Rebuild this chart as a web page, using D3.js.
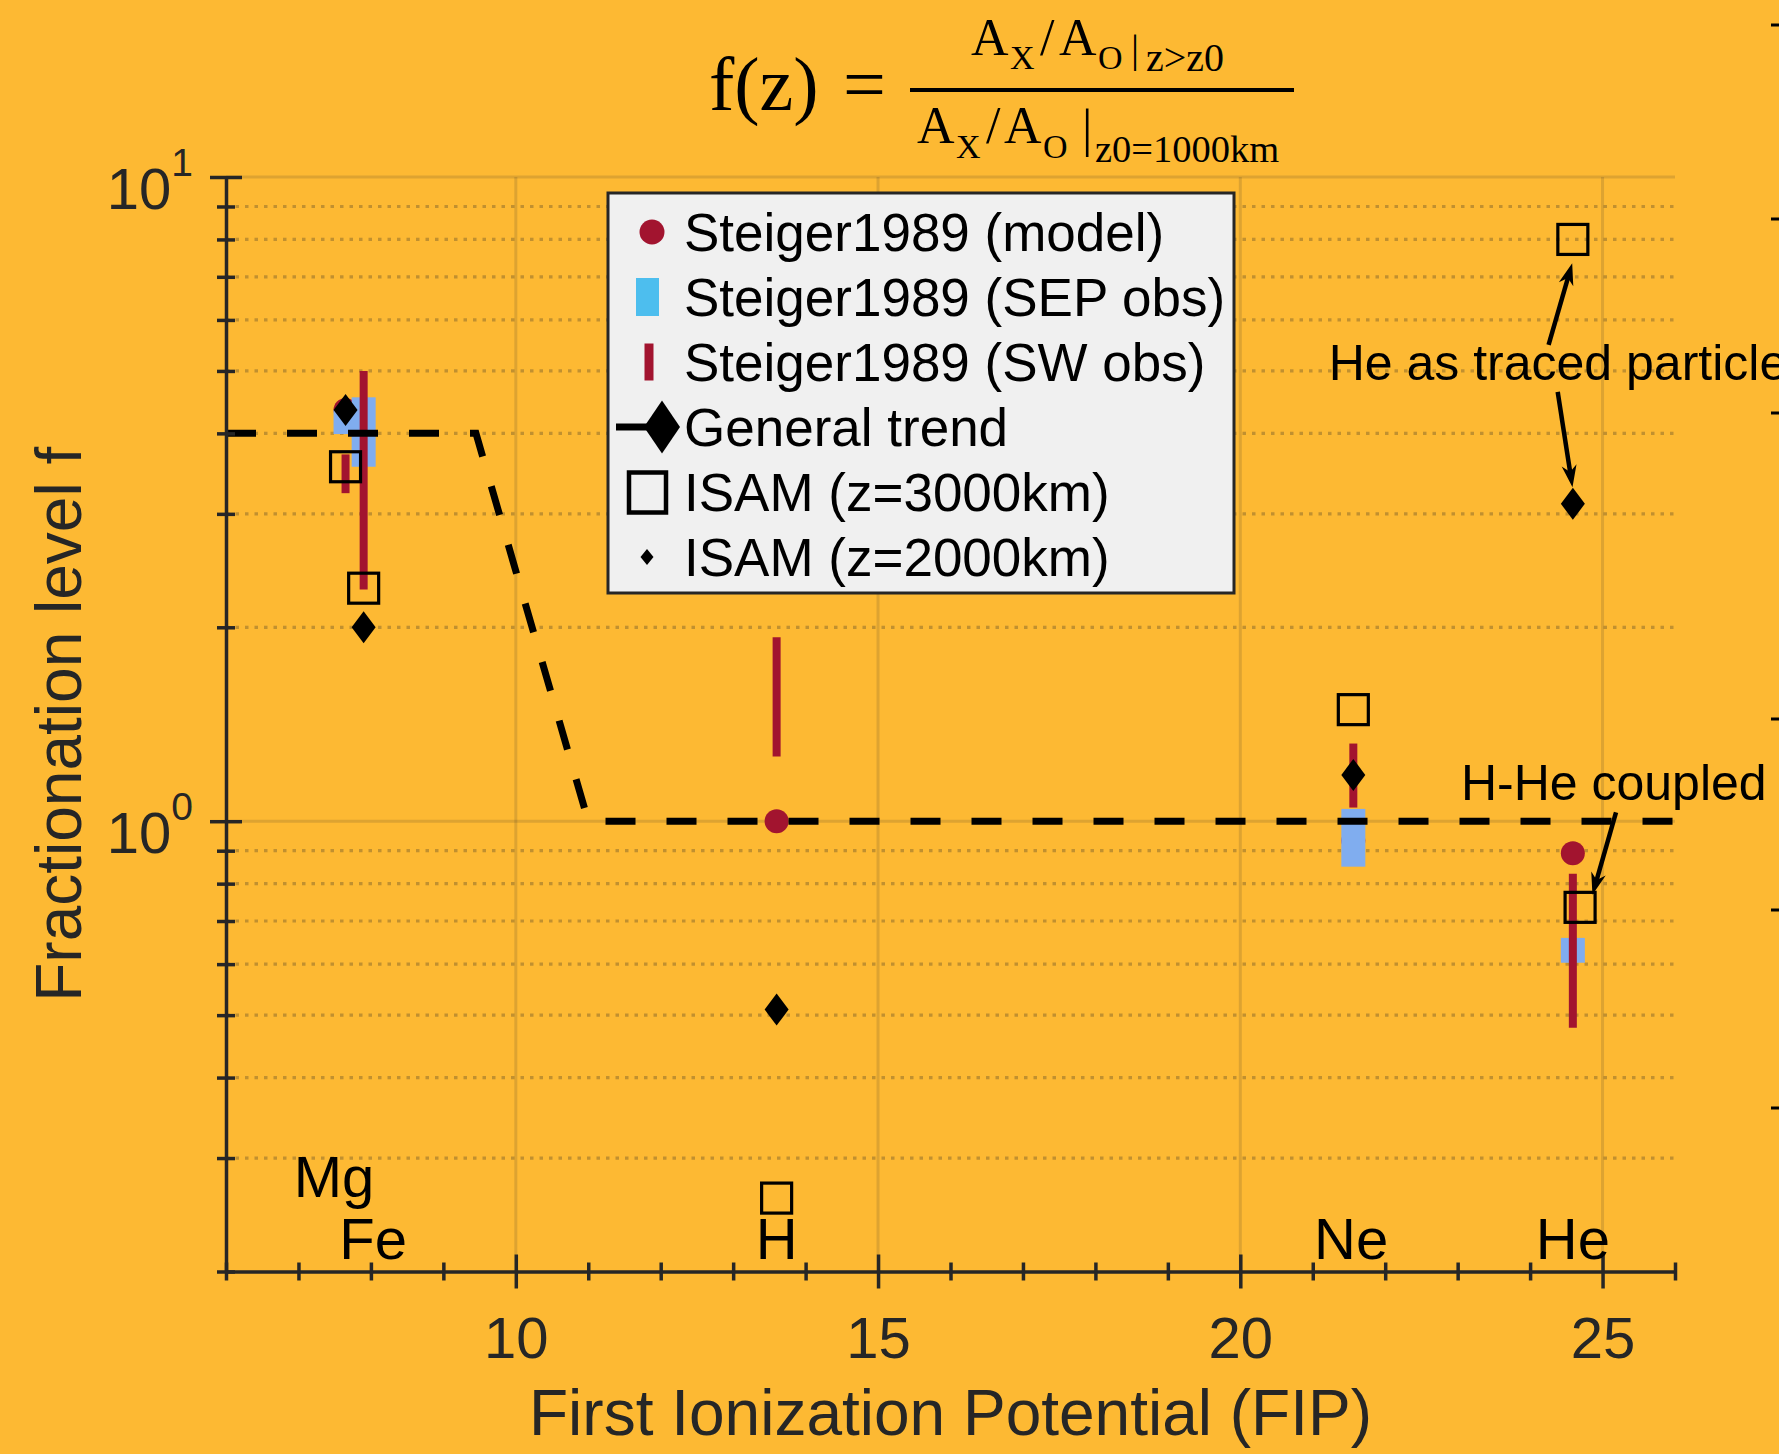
<!DOCTYPE html>
<html><head><meta charset="utf-8">
<script src="https://cdn.jsdelivr.net/npm/d3@7"></script>
<style>html,body{margin:0;padding:0;background:#FDB933;} svg{display:block}</style>
</head><body>
<script>
// ---------------- data ----------------
const elements = ["Mg", "Fe", "H", "Ne", "He"];
const labelX = [7.49, 8.03, 13.60, 21.53, 24.59];
const labelF = [0.2606, 0.209, 0.209, 0.209, 0.209];

const modelX = [7.65, 7.90, 13.60, 21.56, 24.59];
const modelF = [4.35, 4.0, 1.0, 0.933, 0.892];

const sepX = [7.65, 7.90, 21.56, 24.59];
const sepLow = [3.99, 3.55, 0.85, 0.603];
const sepHigh = [4.35, 4.55, 1.045, 0.659];

const swX = [7.65, 7.90, 13.60, 21.56, 24.59];
const swLow = [3.23, 2.29, 1.26, 1.05, 0.478];
const swHigh = [3.71, 5.0, 1.93, 1.32, 0.829];

const trendX = [6, 9.45, 11.0, 26];
const trendF = [4, 4, 1, 1];

const isam3000X = [7.65, 7.90, 13.60, 21.56, 24.59, 24.69];
const isam3000F = [3.55, 2.30, 0.26, 1.49, 8.0, 0.735];

const isam2000X = [7.65, 7.90, 13.60, 21.56, 24.59];
const isam2000F = [4.35, 2.0, 0.51, 1.18, 3.11];

const xTicks = [10, 15, 20, 25];
const xMinorTicks = [6, 7, 8, 9, 11, 12, 13, 14, 16, 17, 18, 19, 21, 22, 23, 24, 26];
const yTicks = [1, 10];
const yTickExp = ["0", "1"];
const yMinorTicks = [0.2, 0.3, 0.4, 0.5, 0.6, 0.7, 0.8, 0.9, 2, 3, 4, 5, 6, 7, 8, 9];

const legendLabels = ["Steiger1989 (model)", "Steiger1989 (SEP obs)", "Steiger1989 (SW obs)",
  "General trend", "ISAM (z=3000km)", "ISAM (z=2000km)"];

const noteTexts = ["He as traced particle", "H-He coupled"];
const noteX = [21.22, 23.045];
const noteF = [4.84, 1.08];
const arrowTailX = [24.255, 24.381, 25.186];
const arrowTailF = [5.49, 4.64, 1.032];
const arrowTipX = [24.581, 24.585, 24.86];
const arrowTipF = [7.35, 3.30, 0.769];

// ---------------- layout ----------------
const W = 1779, H = 1454;
const BG = "#FDB933", AX = "#262626", RED = "#A2142F", SEPBLUE = "#80ADEF", LEGBLUE = "#4DBEEE";
const SANS = "'Liberation Sans', Arial, Helvetica, sans-serif";
const SERIF = "'Liberation Serif', 'Times New Roman', serif";

const x = d3.scaleLinear().domain([6, 26]).range([226, 1675]);
const y = d3.scaleLog().domain([0.2, 10]).range([1271.5, 177]);

const svg = d3.select("body").append("svg").attr("width", W).attr("height", H);
svg.append("rect").attr("width", W).attr("height", H).attr("fill", BG);

// ---- grid ----
const grid = svg.append("g");
grid.selectAll("line.vg").data(xTicks).join("line")
  .attr("x1", d => x(d)).attr("x2", d => x(d)).attr("y1", y(10)).attr("y2", y(0.2))
  .attr("stroke", AX).attr("stroke-opacity", 0.15).attr("stroke-width", 3);
grid.selectAll("line.hg").data(yTicks).join("line")
  .attr("x1", x(6)).attr("x2", x(26)).attr("y1", d => y(d)).attr("y2", d => y(d))
  .attr("stroke", AX).attr("stroke-opacity", 0.15).attr("stroke-width", 3);
grid.selectAll("line.mg").data(yMinorTicks.filter(d => d > 0.2)).join("line")
  .attr("x1", x(6)).attr("x2", x(26)).attr("y1", d => y(d)).attr("y2", d => y(d))
  .attr("stroke", AX).attr("stroke-opacity", 0.28).attr("stroke-width", 3.2)
  .attr("stroke-dasharray", "3.5 6");

// ---- data marks ----
const marks = svg.append("g");
marks.selectAll("circle.model").data(modelX).join("circle")
  .attr("cx", d => x(d)).attr("cy", (d, i) => y(modelF[i])).attr("r", 12).attr("fill", RED);
marks.selectAll("rect.sep").data(sepX).join("rect")
  .attr("x", d => x(d) - 12).attr("width", 24)
  .attr("y", (d, i) => y(sepHigh[i])).attr("height", (d, i) => y(sepLow[i]) - y(sepHigh[i]))
  .attr("fill", SEPBLUE);
marks.selectAll("line.sw").data(swX).join("line")
  .attr("x1", d => x(d)).attr("x2", d => x(d))
  .attr("y1", (d, i) => y(swHigh[i])).attr("y2", (d, i) => y(swLow[i]))
  .attr("stroke", RED).attr("stroke-width", 8);
const trendLine = d3.line().x(d => x(d[0])).y(d => y(d[1]));
marks.append("path").datum(trendX.map((d, i) => [d, trendF[i]]))
  .attr("d", trendLine).attr("fill", "none").attr("stroke", "#000")
  .attr("stroke-width", 7).attr("stroke-dasharray", "30 31");
marks.selectAll("rect.i3").data(isam3000X).join("rect")
  .attr("x", d => x(d) - 15).attr("y", (d, i) => y(isam3000F[i]) - 15)
  .attr("width", 30).attr("height", 30)
  .attr("fill", "none").attr("stroke", "#000").attr("stroke-width", 3.2);
const diamond = (cx, cy, hw, hh) => `M${cx},${cy - hh}L${cx + hw},${cy}L${cx},${cy + hh}L${cx - hw},${cy}Z`;
marks.selectAll("path.i2").data(isam2000X).join("path")
  .attr("d", (d, i) => diamond(x(d), y(isam2000F[i]), 12, 16)).attr("fill", "#000");

// ---- axes ----
const gx = svg.append("g").attr("transform", `translate(0,${y(0.2)})`)
  .call(d3.axisBottom(x).tickValues(xTicks).tickSizeInner(17).tickSizeOuter(0).tickFormat(d3.format("d")));
gx.select(".domain").attr("stroke", AX).attr("stroke-width", 3.5);
gx.selectAll(".tick line").attr("y1", -17).attr("y2", 17).attr("stroke", AX).attr("stroke-width", 3.5);
gx.selectAll(".tick text").attr("y", 86.5).attr("dy", 0).attr("fill", AX)
  .style("font-family", SANS).style("font-size", "58px");
const gxm = svg.append("g").attr("transform", `translate(0,${y(0.2)})`)
  .call(d3.axisBottom(x).tickValues(xMinorTicks).tickSizeInner(9).tickSizeOuter(0).tickFormat(""));
gxm.select(".domain").remove();
gxm.selectAll(".tick line").attr("y1", -9).attr("y2", 9).attr("stroke", AX).attr("stroke-width", 3.5);

const gy = svg.append("g").attr("transform", `translate(${x(6)},0)`)
  .call(d3.axisLeft(y).tickValues(yTicks).tickSizeInner(16).tickSizeOuter(0).tickFormat(""));
gy.select(".domain").attr("stroke", AX).attr("stroke-width", 3.5);
gy.selectAll(".tick line").attr("x1", -16).attr("x2", 16).attr("stroke", AX).attr("stroke-width", 3.5);
gy.selectAll(".tick text").remove();
gy.selectAll(".tick").each(function (d, i) {
  const t = d3.select(this).append("text").attr("x", -33).attr("y", 31)
    .attr("text-anchor", "end").attr("fill", AX).style("font-family", SANS).style("font-size", "58px");
  t.append("tspan").text("10");
  t.append("tspan").attr("dy", -33).style("font-size", "39px").text(yTickExp[i]);
});
const gym = svg.append("g").attr("transform", `translate(${x(6)},0)`)
  .call(d3.axisLeft(y).tickValues(yMinorTicks).tickSizeInner(9).tickSizeOuter(0).tickFormat(""));
gym.select(".domain").remove();
gym.selectAll(".tick line").attr("x1", -9).attr("x2", 9).attr("stroke", AX).attr("stroke-width", 3.5);

svg.append("text").attr("x", (x(6) + x(26)) / 2).attr("y", 1435).attr("text-anchor", "middle")
  .attr("fill", AX).style("font-family", SANS).style("font-size", "64px")
  .text("First Ionization Potential (FIP)");
svg.append("text").attr("transform", `translate(81,${(y(0.2) + y(10)) / 2}) rotate(-90)`)
  .attr("text-anchor", "middle").attr("fill", AX).style("font-family", SANS).style("font-size", "64px")
  .text("Fractionation level f");

svg.selectAll("text.el").data(elements).join("text")
  .attr("x", (d, i) => x(labelX[i])).attr("y", (d, i) => y(labelF[i]))
  .attr("text-anchor", "middle").attr("fill", "#000")
  .style("font-family", SANS).style("font-size", "58px").text(d => d);

// ---- annotations ----
const ann = svg.append("g");
ann.selectAll("text.note").data(noteTexts).join("text")
  .attr("x", (d, i) => x(noteX[i])).attr("y", (d, i) => y(noteF[i]))
  .attr("fill", "#000").style("font-family", SANS).style("font-size", "50px").text(d => d);
arrowTailX.forEach((d, i) => {
  const x1 = x(d), y1 = y(arrowTailF[i]), x2 = x(arrowTipX[i]), y2 = y(arrowTipF[i]);
  const len = Math.hypot(x2 - x1, y2 - y1), ux = (x2 - x1) / len, uy = (y2 - y1) / len;
  const px = -uy, py = ux, L = 22, Wd = 7.5;
  ann.append("line").attr("x1", x1).attr("y1", y1).attr("x2", x2 - ux * L * 0.6).attr("y2", y2 - uy * L * 0.6)
    .attr("stroke", "#000").attr("stroke-width", 4.5);
  ann.append("path").attr("d",
    `M${x2},${y2}L${x2 - ux * L + px * Wd},${y2 - uy * L + py * Wd}L${x2 - ux * L * 0.7},${y2 - uy * L * 0.7}L${x2 - ux * L - px * Wd},${y2 - uy * L - py * Wd}Z`)
    .attr("fill", "#000");
});

// ---- neighbouring axis ticks at right edge ----
const edgeTicks = [25, 219, 413, 719, 910, 1108];
svg.selectAll("line.edge").data(edgeTicks).join("line")
  .attr("x1", 1771).attr("x2", W).attr("y1", d => d).attr("y2", d => d)
  .attr("stroke", "#000").attr("stroke-width", 3);

// ---- legend ----
const lg = svg.append("g");
lg.append("rect").attr("x", 608).attr("y", 193).attr("width", 626).attr("height", 400)
  .attr("fill", "#F0F0F0").attr("stroke", AX).attr("stroke-width", 3);
const ly = i => 232 + i * 65;
lg.append("circle").attr("cx", 652).attr("cy", ly(0)).attr("r", 12.5).attr("fill", RED);
lg.append("rect").attr("x", 636).attr("y", ly(1) - 19).attr("width", 23).attr("height", 38).attr("fill", LEGBLUE);
lg.append("rect").attr("x", 644.5).attr("y", ly(2) - 18.5).attr("width", 9).attr("height", 37).attr("fill", RED);
lg.append("line").attr("x1", 616).attr("x2", 662).attr("y1", ly(3)).attr("y2", ly(3))
  .attr("stroke", "#000").attr("stroke-width", 7);
lg.append("path").attr("d", diamond(662, ly(3), 18, 26.5)).attr("fill", "#000");
lg.append("rect").attr("x", 629).attr("y", ly(4) - 19.5).attr("width", 37).attr("height", 40)
  .attr("fill", "none").attr("stroke", "#000").attr("stroke-width", 4.5);
lg.append("path").attr("d", diamond(647, ly(5), 6.5, 8)).attr("fill", "#000");
lg.selectAll("text.lab").data(legendLabels).join("text")
  .attr("x", 684).attr("y", (d, i) => ly(i) + 19).attr("fill", "#000")
  .style("font-family", SANS).style("font-size", "53px").text(d => d);

// ---- formula title ----
const tg = svg.append("g").attr("fill", "#000").style("font-family", SERIF);
const piece = (tx, ty, fs, s) => tg.append("text").attr("x", tx).attr("y", ty).style("font-size", fs + "px").text(s);
piece(709, 110, 76, "f(z)");
piece(843, 110, 76, "=");
tg.append("line").attr("x1", 910).attr("x2", 1294).attr("y1", 90).attr("y2", 90).attr("stroke", "#000").attr("stroke-width", 4);
// numerator
piece(971, 55, 52, "A"); piece(1010, 69, 34, "X"); piece(1040, 55, 52, "/");
piece(1059, 55, 52, "A"); piece(1098, 69, 34, "O"); piece(1131, 62, 40, "|"); piece(1146, 71, 40, "z>z0");
// denominator
piece(917, 143, 52, "A"); piece(956, 158, 34, "X"); piece(986, 143, 52, "/");
piece(1004, 143, 52, "A"); piece(1043, 158, 34, "O"); piece(1082, 146, 52, "|"); piece(1095, 162, 38.5, "z0=1000km");
</script>
</body></html>
